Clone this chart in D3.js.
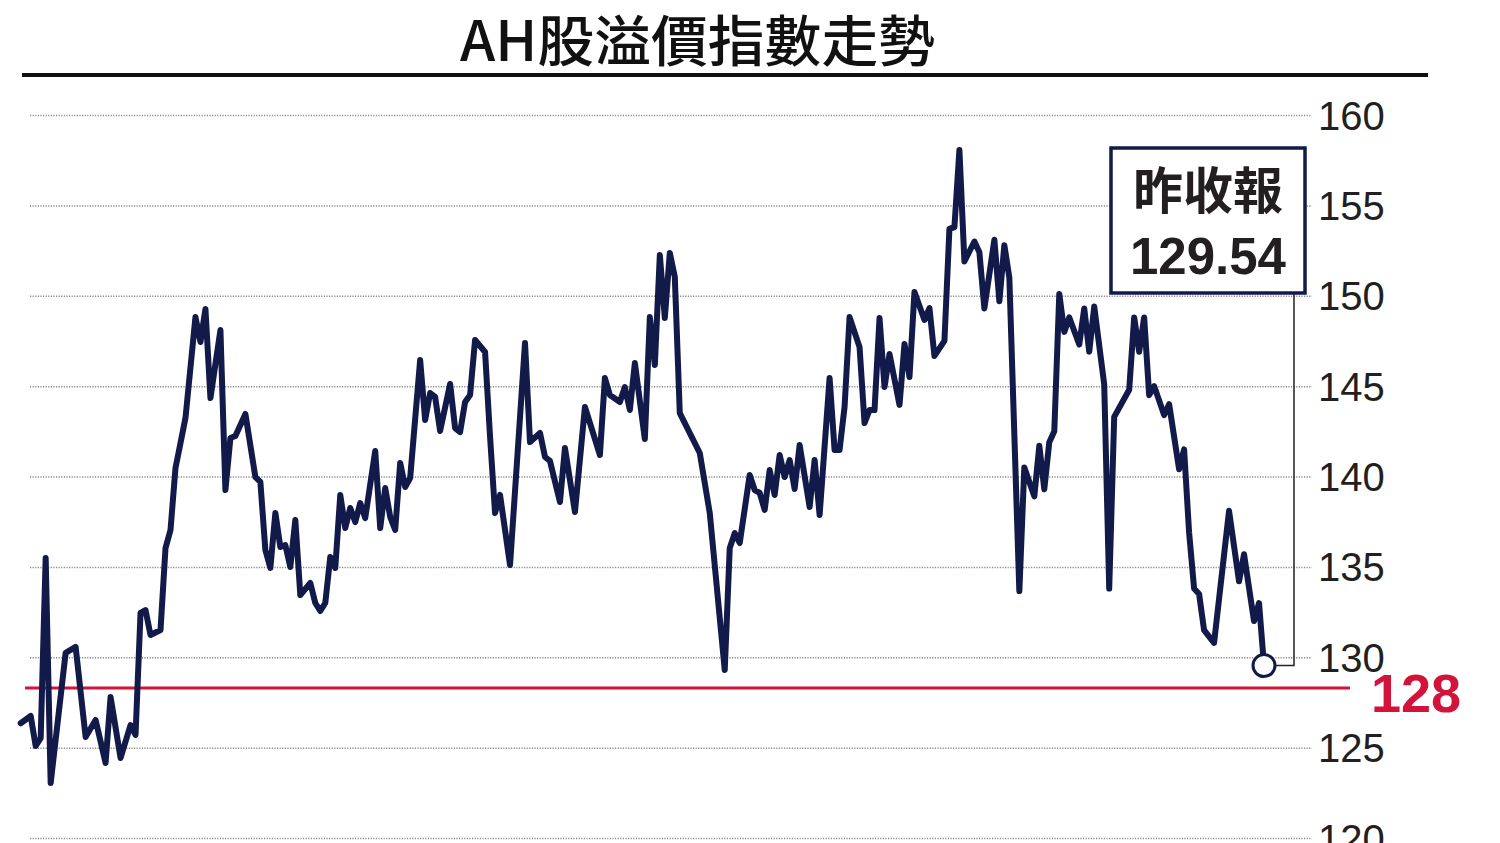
<!DOCTYPE html>
<html>
<head>
<meta charset="utf-8">
<title>AH股溢價指數走勢</title>
<script src="https://cdn.jsdelivr.net/npm/d3@7/dist/d3.min.js"></script>
<style>
  body { margin: 0; background: #fff; }
  svg { display: block; }
</style>
</head>
<body>
<script>
// chart data
const chartTitle = "AH股溢價指數走勢";
const yTicks = [120, 125, 130, 135, 140, 145, 150, 155, 160];

// trading day number (first day = 0) and index close
const tradingDay = [
  0, 2, 3, 4, 5, 6, 9, 11, 13, 15, 17, 18, 20, 22, 23, 24, 25, 26, 28, 29,
  30, 31, 32, 33, 35, 36, 37, 38, 40, 41, 42, 43, 45, 47, 48, 49, 50, 51, 52, 53,
  54, 55, 56, 58, 59, 60, 61, 62, 63, 64, 65, 66, 67, 68, 69, 71, 72, 73, 74, 75,
  76, 77, 78, 80, 81, 82, 83, 84, 86, 87, 88, 89, 90, 91, 93, 94, 95, 96, 98, 101,
  102, 104, 105, 106, 108, 109, 111, 113, 116, 117, 118, 120, 121, 122, 123, 125, 126, 127, 128, 129,
  130, 131, 132, 136, 138, 141, 142, 143, 144, 146, 147, 148, 149, 150, 151, 152, 153, 154, 155, 156,
  158, 159, 160, 162, 163, 164, 165, 166, 168, 169, 170, 171, 172, 173, 174, 176, 177, 178, 179, 181,
  182, 183, 185, 186, 187, 188, 189, 191, 192, 193, 195, 196, 197, 198, 200, 201, 203, 204, 205, 206,
  207, 208, 209, 210, 212, 213, 214, 215, 217, 218, 219, 222, 223, 224, 225, 226, 227, 229, 230, 232,
  233, 234, 235, 236, 237, 239, 242, 244, 245, 247, 248, 249
];
const premiumIndex = [
  126.35, 126.75, 125.09, 125.53, 135.49, 123.04, 130.24, 130.57, 125.59, 126.53, 124.15, 127.80, 124.43, 126.25, 125.70, 132.45, 132.61, 131.23, 131.51, 136.04,
  137.04, 140.47, 141.85, 143.24, 148.82, 147.44, 149.27, 144.34, 148.10, 139.25, 142.13, 142.24, 143.46, 139.97, 139.70, 135.93, 134.94, 137.98, 136.10, 136.20,
  134.99, 137.59, 133.44, 134.11, 133.00, 132.56, 133.00, 135.55, 134.94, 138.98, 137.15, 138.26, 137.48, 138.53, 137.70, 141.41, 137.15, 139.36, 137.76, 137.04,
  140.75, 139.42, 139.92, 146.45, 143.13, 144.62, 144.40, 142.52, 145.12, 142.68, 142.46, 144.12, 144.51, 147.55, 146.89, 142.19, 137.98, 138.98, 135.10, 147.39,
  141.91, 142.41, 141.08, 140.86, 138.59, 141.58, 138.04, 143.85, 141.19, 145.45, 144.51, 144.12, 144.95, 143.68, 146.28, 142.07, 148.82, 146.17, 152.25, 148.77,
  152.37, 151.04, 143.51, 141.30, 137.98, 129.29, 136.04, 136.87, 136.32, 140.08, 139.25, 139.09, 138.15, 140.36, 138.98, 141.19, 139.97, 140.91, 139.31, 141.74,
  138.31, 140.91, 137.87, 145.45, 141.47, 141.47, 143.85, 148.82, 147.16, 142.96, 143.68, 143.68, 148.77, 144.95, 146.78, 143.96, 147.33, 145.50, 150.21, 148.66,
  149.32, 146.67, 147.50, 153.70, 153.80, 158.06, 151.90, 153.00, 152.40, 149.30, 153.10, 149.70, 152.80, 151.00, 133.66, 140.50, 138.90, 141.70, 139.30, 141.90,
  142.50, 150.10, 148.00, 148.80, 147.30, 149.30, 146.90, 149.40, 145.10, 133.80, 143.30, 144.80, 148.80, 146.90, 148.80, 144.50, 145.00, 143.40, 144.00, 140.40,
  141.50, 136.90, 133.80, 133.50, 131.50, 130.80, 138.10, 134.20, 135.70, 132.00, 133.00, 129.54
];

// callout and support level
const lastCloseLabel = "昨收報";
const lastCloseText = "129.54";
const supportLevel = 128.3;   // where the red rule sits in the picture
const supportLabel = "128";

const W = 1500, H = 843;
const navy = "#121a4a", red = "#d2143a", ink = "#231f20";

const svg = d3.select("body").append("svg")
    .attr("width", W)
    .attr("height", H);

svg.append("rect").attr("width", W).attr("height", H).attr("fill", "#fff");

// title and rule under it
svg.append("text")
    .attr("x", 460)
    .attr("y", 61)
    .attr("textLength", 475)
    .attr("lengthAdjust", "spacingAndGlyphs")
    .style("font-family", "'Noto Sans CJK TC', 'Noto Sans CJK SC', sans-serif")
    .style("font-weight", 500)
    .style("font-size", "55px")
    .style("fill", "#111")
    .text(chartTitle);

svg.append("line")
    .attr("x1", 22).attr("x2", 1428)
    .attr("y1", 75).attr("y2", 75)
    .attr("stroke", "#111")
    .attr("stroke-width", 4);

// scales
const x = d3.scaleLinear()
    .domain([0, d3.max(tradingDay)])
    .range([20.7, 1264]);

const y = d3.scaleLinear()
    .domain([120, 160])
    .range([838, 115]);

// y axis on the right: dotted grid + labels
const yAxis = d3.axisRight(y)
    .tickValues(yTicks)
    .tickSize(1282)
    .tickPadding(8);

const gAxis = svg.append("g")
    .attr("transform", "translate(30,0)")
    .call(yAxis);

gAxis.select(".domain").remove();
gAxis.selectAll(".tick line")
    .attr("stroke", "#8a8a8a")
    .attr("stroke-width", 1.5)
    .attr("stroke-dasharray", "1.2,1.4");
gAxis.selectAll(".tick text")
    .attr("x", 1288)
    .attr("dy", "0.35em")
    .style("font-family", "'Liberation Sans', Arial, sans-serif")
    .style("font-size", "40px")
    .style("fill", ink);

// red support level
svg.append("line")
    .attr("x1", 25).attr("x2", 1350)
    .attr("y1", y(supportLevel)).attr("y2", y(supportLevel))
    .attr("stroke", red)
    .attr("stroke-width", 3);

svg.append("text")
    .attr("x", 1371)
    .attr("y", y(supportLevel))
    .attr("dy", "0.44em")
    .style("font-family", "'Liberation Sans', Arial, sans-serif")
    .style("font-weight", "bold")
    .style("font-size", "54px")
    .style("fill", red)
    .text(supportLabel);

// index line
const points = tradingDay.map((d, i) => [d, premiumIndex[i]]);

const line = d3.line()
    .x(d => x(d[0]))
    .y(d => y(d[1]));

svg.append("path")
    .datum(points)
    .attr("d", line)
    .attr("fill", "none")
    .attr("stroke", navy)
    .attr("stroke-width", 6)
    .attr("stroke-linejoin", "round")
    .attr("stroke-linecap", "round");

// callout box for the last close
const last = points[points.length - 1];
const lx = x(last[0]), ly = y(last[1]);
const box = {x: 1111, y: 148, w: 194, h: 145};

svg.append("path")
    .attr("d", "M" + (lx + 11) + "," + ly + "H" + 1294 + "V" + (box.y + box.h))
    .attr("fill", "none")
    .attr("stroke", "#222")
    .attr("stroke-width", 1.5);

svg.append("rect")
    .attr("x", box.x).attr("y", box.y)
    .attr("width", box.w).attr("height", box.h)
    .attr("fill", "#fff")
    .attr("stroke", navy)
    .attr("stroke-width", 3.5);

svg.append("text")
    .attr("x", box.x + box.w / 2)
    .attr("y", 187)
    .attr("text-anchor", "middle")
    .attr("dominant-baseline", "central")
    .style("font-family", "'Noto Sans CJK TC', 'Noto Sans CJK SC', sans-serif")
    .style("font-weight", "bold")
    .style("font-size", "50px")
    .style("fill", ink)
    .text(lastCloseLabel);

svg.append("text")
    .attr("x", box.x + box.w / 2)
    .attr("y", 274)
    .attr("text-anchor", "middle")
    .style("font-family", "'Liberation Sans', Arial, sans-serif")
    .style("font-weight", "bold")
    .style("font-size", "51px")
    .style("fill", ink)
    .text(lastCloseText);

svg.append("circle")
    .attr("cx", lx).attr("cy", ly)
    .attr("r", 11)
    .attr("fill", "#fff")
    .attr("stroke", navy)
    .attr("stroke-width", 3);
</script>
</body>
</html>
